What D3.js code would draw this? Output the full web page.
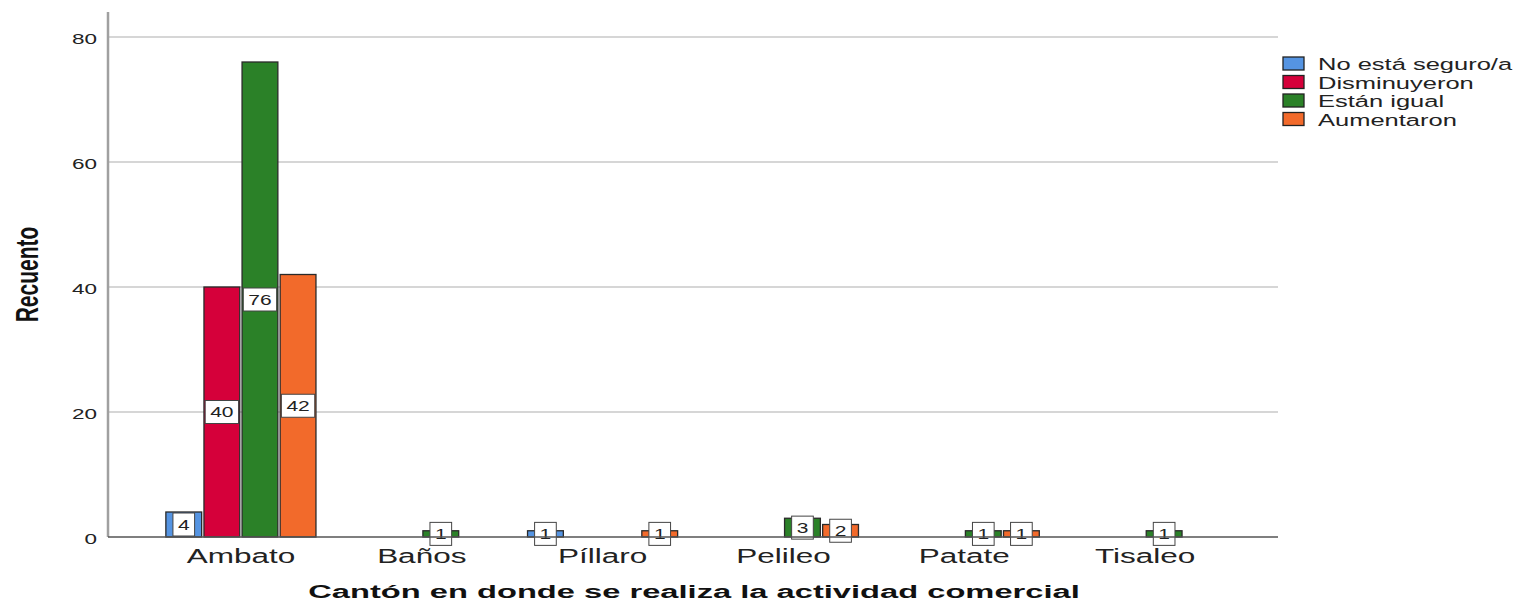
<!DOCTYPE html>
<html><head><meta charset="utf-8">
<script src="https://cdn.jsdelivr.net/npm/d3@7"></script>
<style>
html,body{margin:0;padding:0;background:#fff;}
text{font-family:"Liberation Sans",Arial,sans-serif;}
</style></head>
<body><svg id="chart" width="1520" height="609"></svg>
<script>
const categories = ["Ambato","Baños","Píllaro","Pelileo","Patate","Tisaleo"];
const seriesNames = ["No está seguro/a","Disminuyeron","Están igual","Aumentaron"];
const noSeguro     = [4, 0, 1, 0, 0, 0];
const disminuyeron = [40, 0, 0, 0, 0, 0];
const igual        = [76, 1, 0, 3, 1, 1];
const aumentaron   = [42, 0, 1, 2, 1, 0];
const yTicks = [0, 20, 40, 60, 80];
const colors = ["#5594e2", "#d5003a", "#2b8128", "#f26a2b"];
const yTitle = "Recuento";
const xTitle = "Cantón en donde se realiza la actividad comercial";

(function () {
const SX = 1.5; // horizontal stretch of the original rendering
const seriesVals = [noSeguro, disminuyeron, igual, aumentaron];
const svg = d3.select("#chart");
const pL = 108, pR = 1278, pT = 12, pB = 537;

const x0 = d3.scaleBand().domain(categories).range([pL, pR]).paddingInner(0.17).paddingOuter(0.32);
const x1 = d3.scaleBand().domain(seriesNames).range([0, x0.bandwidth()]).paddingInner(0.06);
const y = d3.scaleLinear().domain([0, 84]).range([pB, pT]);

// gridlines
svg.append("g").selectAll("line").data(yTicks.filter(d => d > 0)).join("line")
  .attr("x1", pL).attr("x2", pR).attr("y1", d => y(d)).attr("y2", d => y(d))
  .attr("stroke", "#c8c8c8").attr("stroke-width", 1.5);

// y axis
const yAxis = svg.append("g").attr("transform", `translate(${pL},0)`)
  .call(d3.axisLeft(y).tickValues(yTicks).tickSize(0).tickPadding(0));
yAxis.select(".domain").remove();
yAxis.selectAll("text").attr("x", 0).attr("dy", "0.4em")
  .attr("font-size", 15).attr("fill", "#222")
  .attr("font-family", "Liberation Sans, Arial, sans-serif")
  .attr("transform", `translate(-11,0) scale(${SX},1)`);
svg.append("line").attr("x1", pL).attr("x2", pL).attr("y1", pT).attr("y2", pB)
  .attr("stroke", "#a0a0a0").attr("stroke-width", 2.5);

// bars
const groups = svg.append("g").selectAll("g").data(categories).join("g")
  .attr("transform", d => `translate(${x0(d)},0)`);
const barData = (c, ci) => seriesNames.map((s, si) => ({s, si, v: seriesVals[si][ci]})).filter(d => d.v > 0);
groups.each(function(c, ci) {
  const g = d3.select(this);
  g.selectAll("rect.bar").data(barData(c, ci)).join("rect").attr("class", "bar")
    .attr("x", d => x1(d.s)).attr("width", x1.bandwidth())
    .attr("y", d => y(d.v)).attr("height", d => y(0) - y(d.v))
    .attr("fill", d => colors[d.si]).attr("stroke", "#2a2a2a").attr("stroke-width", 1.3);
});

// baseline
svg.append("line").attr("x1", pL).attr("x2", pR).attr("y1", pB).attr("y2", pB)
  .attr("stroke", "#555").attr("stroke-width", 1.5);

// value labels
groups.each(function(c, ci) {
  const g = d3.select(this);
  barData(c, ci).forEach(d => {
    const cx = x1(d.s) + x1.bandwidth() / 2;
    const cy = (y(d.v) + y(0)) / 2;
    const lg = g.append("g").attr("transform", `translate(${cx},${cy})`);
    const rect = lg.append("rect");
    const t = lg.append("text").text(d.v).attr("font-size", 14).attr("fill", "#222")
      .attr("text-anchor", "middle").attr("dy", "0.36em")
      .attr("transform", `scale(${SX},1)`);
    const w = t.node().getComputedTextLength() * SX + 10;
    rect.attr("x", -w / 2).attr("y", -11.5).attr("width", w).attr("height", 23)
      .attr("fill", "#fff").attr("stroke", "#444").attr("stroke-width", 1);
  });
});

// x axis labels
const xAxis = svg.append("g").attr("transform", `translate(0,${pB})`)
  .call(d3.axisBottom(x0).tickSize(0).tickPadding(0));
xAxis.select(".domain").remove();
xAxis.selectAll("text").attr("y", 0).attr("dy", 0)
  .attr("font-size", 21).attr("fill", "#222")
  .attr("font-family", "Liberation Sans, Arial, sans-serif")
  .attr("transform", `translate(0,26) scale(${SX},1)`);

// axis titles
svg.append("text").text(xTitle).attr("font-size", 19).attr("font-weight", "bold").attr("fill", "#111")
  .attr("text-anchor", "middle")
  .attr("transform", `translate(694,598) scale(1.72,1)`);
svg.append("text").text(yTitle).attr("font-size", 21).attr("font-weight", "bold").attr("fill", "#111")
  .attr("text-anchor", "middle")
  .attr("transform", `translate(38,${(pT + pB) / 2}) scale(${SX},1) rotate(-90)`);

// legend
const leg = svg.append("g").attr("transform", "translate(1283,57)");
seriesNames.forEach((s, i) => {
  const r = leg.append("g").attr("transform", `translate(0,${i * 18.5})`);
  r.append("rect").attr("x", 0).attr("y", 0).attr("width", 21).attr("height", 13)
    .attr("fill", colors[i]).attr("stroke", "#222").attr("stroke-width", 1.3);
  r.append("text").text(s).attr("font-size", 17).attr("fill", "#222")
    .attr("transform", `translate(35,13) scale(${SX},1)`);
});
})();
</script></body></html>
